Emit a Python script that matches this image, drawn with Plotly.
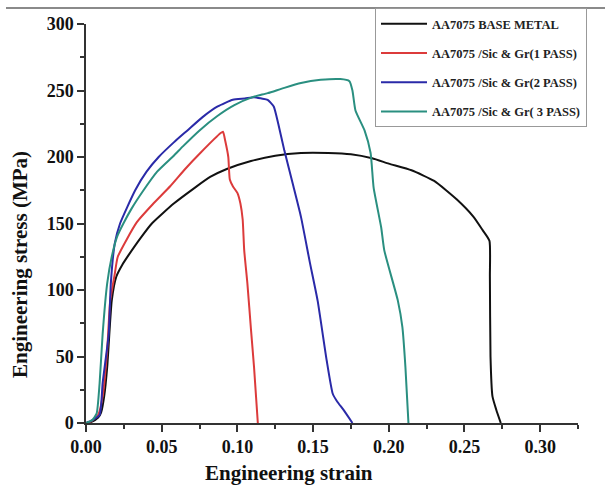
import plotly.graph_objects as go

# ---------------- data ----------------
base_strain = [0, 0.004, 0.008, 0.010, 0.012, 0.014, 0.017, 0.020, 0.024, 0.028, 0.036, 0.0435, 0.058,
               0.072, 0.082, 0.093, 0.109, 0.125, 0.142, 0.160, 0.175, 0.189, 0.200, 0.215,
               0.230, 0.245, 0.256, 0.262, 0.2665, 0.2668, 0.2672, 0.2685, 0.271, 0.274]
base_stress = [0, 1, 4, 8, 20, 42, 92, 110, 119, 126, 139, 150, 165,
               177, 185, 191, 197, 201, 203, 203, 202, 199, 195, 190,
               182, 168, 155, 145, 137, 110, 50, 20, 10, 0]

p1_strain = [0, 0.003, 0.008, 0.011, 0.014, 0.016, 0.019, 0.021, 0.0336, 0.0445, 0.0556, 0.0655,
             0.0755, 0.0890, 0.0905, 0.092, 0.094, 0.095, 0.097, 0.100, 0.102, 0.1035, 0.1045,
             0.1066, 0.109, 0.111, 0.1135]
p1_stress = [0, 1, 6, 20, 55, 92, 112, 125, 151, 165, 178, 191,
             203, 218, 219, 212, 200, 183, 178, 173, 165, 153, 130,
             105, 70, 42, 0]

p2_strain = [0, 0.004, 0.009, 0.011, 0.015, 0.0164, 0.019, 0.0225, 0.0325, 0.040, 0.048, 0.058,
             0.067, 0.077, 0.087, 0.097, 0.105, 0.111, 0.116, 0.120, 0.124, 0.127, 0.131,
             0.137, 0.142, 0.148, 0.153, 0.159, 0.163, 0.166, 0.170, 0.176]
p2_stress = [0, 2, 6, 30, 67, 105, 135, 150, 175, 189, 200, 211,
             220, 230, 238, 243, 244, 245, 244, 243, 238, 225, 205,
             178, 155, 120, 92, 47, 22, 16, 10, 0]

p3_strain = [0, 0.004, 0.007, 0.009, 0.011, 0.014, 0.017, 0.0205, 0.0247, 0.030, 0.038, 0.047,
             0.058, 0.064, 0.075, 0.087, 0.098, 0.110, 0.120, 0.131, 0.142, 0.155, 0.168, 0.174,
             0.176, 0.178, 0.184, 0.188, 0.190, 0.195, 0.197, 0.206, 0.209, 0.211, 0.213]
p3_stress = [0, 2, 7, 30, 67, 105, 125, 140, 150, 161, 175, 189,
             201, 208, 220, 231, 239, 245, 248, 252, 255.6, 258, 258.6, 257,
             250, 235, 220, 203, 177, 147, 130, 92, 72, 42, 0]

names = ["AA7075 BASE METAL", "AA7075 /Sic & Gr(1 PASS)",
         "AA7075 /Sic & Gr(2 PASS)", "AA7075 /Sic & Gr( 3 PASS)"]
colors = ["#111111", "#dc3b3b", "#2a2aa8", "#2a8f80"]

x_ticks = [0.00, 0.05, 0.10, 0.15, 0.20, 0.25, 0.30]
x_tick_labels = ["0.00", "0.05", "0.10", "0.15", "0.20", "0.25", "0.30"]
y_ticks = [0, 50, 100, 150, 200, 250, 300]

# ---------------- figure ----------------
FONT = "Liberation Serif"
W, H = 605, 487
ML, MR, MT, MB = 86, 27, 24, 64
PW, PH = W - ML - MR, H - MT - MB

fig = go.Figure()
series = [(base_strain, base_stress), (p1_strain, p1_stress),
          (p2_strain, p2_stress), (p3_strain, p3_stress)]
for i, ((xs, ys), nm, c) in enumerate(zip(series, names, colors)):
    fig.add_trace(go.Scatter(x=xs, y=ys, mode="lines", name=f"<b>{nm}</b>", legendgroup=str(i),
                             line=dict(color=c, width=2, shape="spline", smoothing=0.5)))

axis_common = dict(showgrid=False, zeroline=False, showline=True, linecolor="#333333",
                   linewidth=1.5, ticks="outside", ticklen=7, tickwidth=1.5,
                   tickcolor="#333333",
                   tickfont=dict(family=FONT, size=18, color="#111111"))

fig.update_xaxes(range=[0, 0.325], tickvals=x_ticks, ticktext=[f"<b>{t}</b>" for t in x_tick_labels],
                 minor=dict(dtick=0.025, ticks="outside", ticklen=4, tickwidth=1.5, tickcolor="#333333"),
                 **axis_common)
fig.update_yaxes(range=[0, 300], tickvals=y_ticks, ticktext=[f"<b>{t}</b>" for t in y_ticks],
                 minor=dict(dtick=25, ticks="outside", ticklen=4, tickwidth=1.5, tickcolor="#333333"),
                 **axis_common)

fig.add_annotation(text="<b>Engineering strain</b>", xref="paper", yref="paper",
                   x=(289 - ML) / PW, y=-(473 - MT - PH) / PH, showarrow=False,
                   xanchor="center", yanchor="middle",
                   font=dict(family=FONT, size=21, color="#111111"))
fig.add_annotation(text="<b>Engineering stress (MPa)</b>", xref="paper", yref="paper",
                   x=(20 - ML) / PW, y=(H - MB - 265) / PH, showarrow=False, textangle=-90,
                   xanchor="center", yanchor="middle",
                   font=dict(family=FONT, size=21, color="#111111"))

# top frame line of the picture
fig.add_shape(type="line", xref="paper", yref="paper",
              x0=(6 - ML) / PW, x1=(W - ML) / PW,
              y0=(H - MB - 8) / PH, y1=(H - MB - 8) / PH,
              line=dict(color="#8a8a8a", width=2))

fig.update_layout(
    width=W, height=H, margin=dict(l=ML, r=MR, t=MT, b=MB, autoexpand=False),
    paper_bgcolor="white", plot_bgcolor="white",
    showlegend=True,
    legend=dict(x=(375 - ML) / PW, y=(H - MB - 8) / PH, xanchor="left", yanchor="top",
                bgcolor="white", bordercolor="#999999", borderwidth=1,
                font=dict(family=FONT, size=12.5, color="#222222"),
                tracegroupgap=10, traceorder="grouped", itemwidth=46),
)

fig.write_html("out.html", config={"displayModeBar": False},
               post_script="document.body.style.margin='0';")
